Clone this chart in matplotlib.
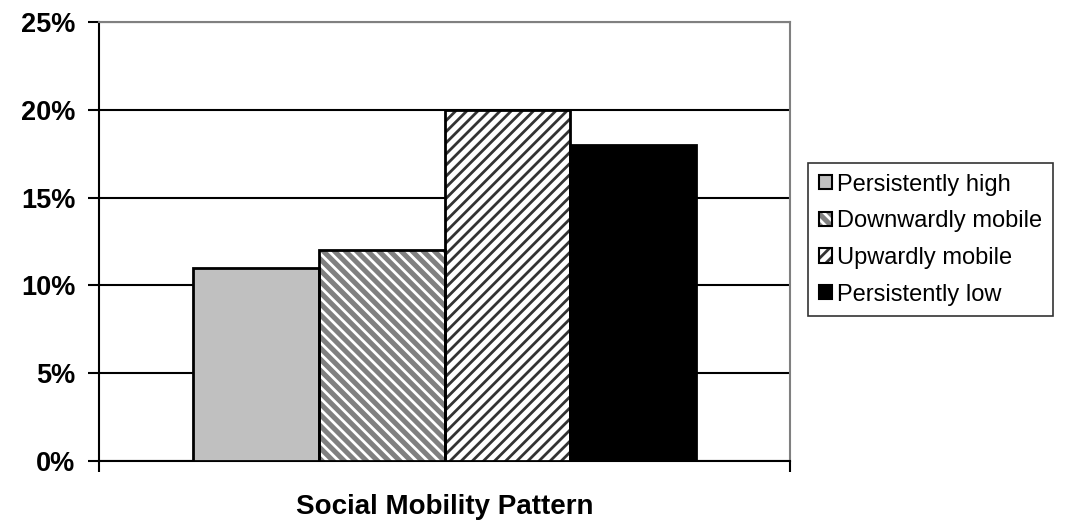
import matplotlib
matplotlib.use("Agg")
import matplotlib.pyplot as plt
from matplotlib.patches import Patch
from matplotlib.legend_handler import HandlerTuple

plt.rcParams['font.family'] = ['Liberation Sans', 'DejaVu Sans']
plt.rcParams['hatch.linewidth'] = 2.0

# data
categories = ['Persistently high', 'Downwardly mobile', 'Upwardly mobile', 'Persistently low']
values = [11, 12, 20, 18]
yticks = [0, 5, 10, 15, 20, 25]
ytick_labels = ['0%', '5%', '10%', '15%', '20%', '25%']

# fill, hatch colour, hatch
styles = [
    ('#c0c0c0', '#c0c0c0', ''),
    ('#808080', 'white', '\\\\\\'),
    ('white', '#333333', '///'),
    ('black', 'black', ''),
]

fig = plt.figure(figsize=(10.75, 5.23), dpi=100)
ax = fig.add_axes([0.092, 0.1185, 0.643, 0.8395])

width = 0.1816
start = 0.5 - 2 * width
xs = [start + width * (i + 0.5) for i in range(len(values))]

for x, v, (fc, hc, h) in zip(xs, values, styles):
    ax.bar(x, v, width=width, color=fc, edgecolor=hc, hatch=h, linewidth=0, zorder=3)
    ax.bar(x, v, width=width, fill=False, edgecolor='black', linewidth=2, zorder=4)

ax.set_xlim(0, 1)
ax.set_ylim(0, 25)
ax.set_yticks(yticks)
ax.set_yticklabels(ytick_labels, fontsize=19.5, fontweight='bold')
ax.set_xticks([0, 1])
ax.set_xticklabels(['', ''])
ax.tick_params(axis='both', direction='out', length=8, width=1.5, color='black')
ax.tick_params(axis='y', pad=9)
ax.grid(axis='y', color='black', linewidth=1.5, zorder=0)
ax.set_axisbelow(True)

for s in ['left', 'bottom']:
    ax.spines[s].set_color('black')
    ax.spines[s].set_linewidth(1.5)
for s in ['top', 'right']:
    ax.spines[s].set_color('#808080')
    ax.spines[s].set_linewidth(1.5)

ax.set_xlabel('Social Mobility Pattern', fontsize=20, fontweight='bold', labelpad=12)

handles = [(Patch(facecolor=fc, edgecolor=hc, hatch=h, linewidth=0),
            Patch(fill=False, edgecolor='black', linewidth=1.5)) for fc, hc, h in styles]
leg = fig.legend(handles, categories, loc='upper left', bbox_to_anchor=(0.7516, 0.6883),
                 handler_map={tuple: HandlerTuple(ndivide=1, pad=0)},
                 fontsize=17, frameon=True, fancybox=False, edgecolor='black',
                 handlelength=0.55, handleheight=0.55, handletextpad=0.25,
                 labelspacing=0.62, borderpad=0.45, borderaxespad=0)
leg.get_frame().set_linewidth(1.2)

fig.savefig('out.png', dpi=100)
